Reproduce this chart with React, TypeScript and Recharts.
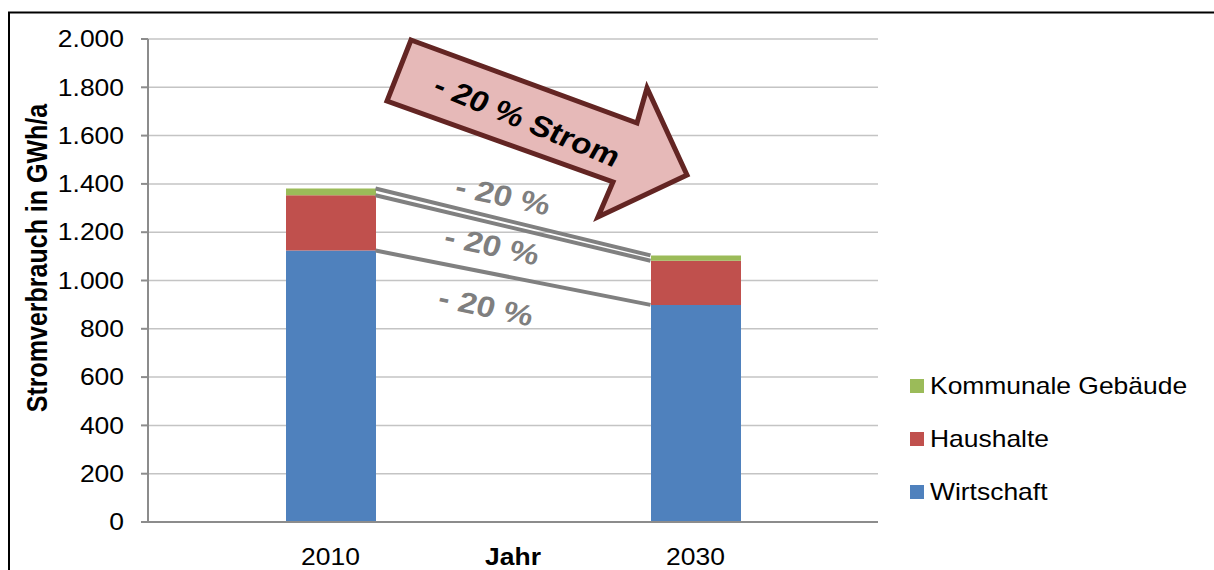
import { BarChart, Bar, XAxis, YAxis, CartesianGrid, Legend, ReferenceLine } from "recharts";

const years = ["2010", "2030"];
const wirtschaft = [1124, 899];
const haushalte = [229, 183];
const kommunale = [28, 22];
const yTicks = [0, 200, 400, 600, 800, 1000, 1200, 1400, 1600, 1800, 2000];
const changeLabel = "- 20 %";
const arrowLabel = "- 20 % Strom";

const series = [
  { key: "wirtschaft", name: "Wirtschaft", color: "#4F81BD" },
  { key: "haushalte", name: "Haushalte", color: "#C0504D" },
  { key: "kommunale", name: "Kommunale Gebäude", color: "#9BBB59" },
];

const data = years.map((year, i) => ({
  year,
  wirtschaft: wirtschaft[i],
  haushalte: haushalte[i],
  kommunale: kommunale[i],
}));

// stack tops per year, used for the "-20 %" connector lines
const levels = years.map((_, i) => [
  wirtschaft[i],
  wirtschaft[i] + haushalte[i],
  wirtschaft[i] + haushalte[i] + kommunale[i],
]);

const W = 1214;
const H = 570;
const FONT = "'Liberation Sans', Arial, sans-serif";
const SX = 1.15; // the source picture is stretched horizontally
const BAR_SIZE = 90;
const PLOT_W = 878 - 148;
// connector ends on a 0..1 helper axis: band centre +/- half a bar
const center = (i: number) => (i + 0.5) / years.length;
const half = BAR_SIZE / 2 / PLOT_W;

const fmt = (v: number) =>
  v >= 1000 ? `${Math.floor(v / 1000)}.${String(v % 1000).padStart(3, "0")}` : String(v);

function YTick({ x, y, payload }: any) {
  return (
    <g transform={`translate(${x},${y}) scale(${SX},1)`}>
      <text x={0} y={0} dy="0.36em" textAnchor="end" fontSize={23} fontFamily={FONT} fill="#000">
        {fmt(payload.value)}
      </text>
    </g>
  );
}

function XTick({ x, y, payload }: any) {
  return (
    <g transform={`translate(${x},${y + 41}) scale(${SX},1)`}>
      <text x={0} y={0} textAnchor="middle" fontSize={23} fontFamily={FONT} fill="#000">
        {payload.value}
      </text>
    </g>
  );
}

function LegendBox() {
  const rows = [...series].reverse();
  return (
    <svg width={300} height={150}>
      {rows.map((s, i) => (
        <g key={s.key} transform={`translate(0,${i * 53})`}>
          <rect x={10} y={9} width={14} height={14} fill={s.color} />
          <text transform={`translate(30,24) scale(${SX},1)`} fontSize={23} fontFamily={FONT} fill="#000">
            {s.name}
          </text>
        </g>
      ))}
    </svg>
  );
}

const changeSpots = [
  [503, 196],
  [492, 246],
  [486, 307],
];

export default function App() {
  return (
    <div style={{ position: "absolute", left: 0, top: 0, width: W, height: H, background: "#fff" }}>
      <BarChart
        width={W}
        height={H}
        data={data}
        barSize={BAR_SIZE}
        margin={{ top: 39, right: 336, bottom: 0, left: 48 }}
      >
        <CartesianGrid vertical={false} stroke="#c4c4c4" strokeWidth={1.5} />
        <XAxis
          dataKey="year"
          height={48}
          tickSize={0}
          tickLine={false}
          axisLine={{ stroke: "#8c8c8c", strokeWidth: 2 }}
          tick={<XTick />}
          interval={0}
        />
        <XAxis xAxisId="n" type="number" domain={[0, 1]} allowDataOverflow hide />
        <YAxis
          width={100}
          domain={[0, 2000]}
          ticks={yTicks}
          interval={0}
          tickSize={7}
          tickMargin={17}
          tickLine={{ stroke: "#8c8c8c", strokeWidth: 2 }}
          axisLine={{ stroke: "#8c8c8c", strokeWidth: 2 }}
          tick={<YTick />}
        />
        <YAxis
          yAxisId="r"
          orientation="right"
          width={0}
          domain={[0, 2000]}
          tick={false}
          tickLine={false}
          axisLine={{ stroke: "#8c8c8c", strokeWidth: 2 }}
        />
        {series.map((s) => (
          <Bar
            key={s.key}
            dataKey={s.key}
            name={s.name}
            stackId="a"
            fill={s.color}
            isAnimationActive={false}
          />
        ))}
        {levels[0].map((v, k) => (
          <ReferenceLine
            key={k}
            xAxisId="n"
            ifOverflow="visible"
            segment={[
              { x: center(0) + half, y: v },
              { x: center(1) - half, y: levels[1][k] },
            ]}
            stroke="#808080"
            strokeWidth={4}
          />
        ))}
        <Legend
          layout="vertical"
          align="center"
          verticalAlign="middle"
          content={<LegendBox />}
          wrapperStyle={{ position: "absolute", left: 900, top: 370, width: 300, height: 150 }}
        />
      </BarChart>
      <svg
        width={W}
        height={H}
        style={{ position: "absolute", left: 0, top: 0, pointerEvents: "none" }}
        fontFamily={FONT}
      >
        <rect x={9} y={12.5} width={1300} height={700} fill="none" stroke="#000" strokeWidth={2} />
        <text
          transform={`translate(47,258) scale(${SX},1) rotate(-90)`}
          textAnchor="middle"
          fontSize={25}
          fontWeight="bold"
          fill="#000"
        >
          Stromverbrauch in GWh/a
        </text>
        <text transform={`translate(513,565) scale(${SX},1)`} textAnchor="middle" fontSize={23} fontWeight="bold" fill="#000">
          Jahr
        </text>
        <polygon
          points="411,40 637,123 647,88 687,175 598,217 613,182 387,101"
          fill="#E6B9B8"
          stroke="#632523"
          strokeWidth={5}
          strokeLinejoin="miter"
        />
        <text
          transform={`translate(527,121) scale(${SX},1) rotate(25.4)`}
          textAnchor="middle"
          dominantBaseline="central"
          fontSize={29}
          fontWeight="bold"
          fill="#000"
        >
          {arrowLabel}
        </text>
        {changeSpots.map(([cx, cy], i) => (
          <text
            key={i}
            transform={`translate(${cx},${cy}) scale(${SX},1) rotate(13.7)`}
            textAnchor="middle"
            dominantBaseline="central"
            fontSize={29}
            fontWeight="bold"
            fill="#7f7f7f"
          >
            {changeLabel}
          </text>
        ))}
      </svg>
    </div>
  );
}
